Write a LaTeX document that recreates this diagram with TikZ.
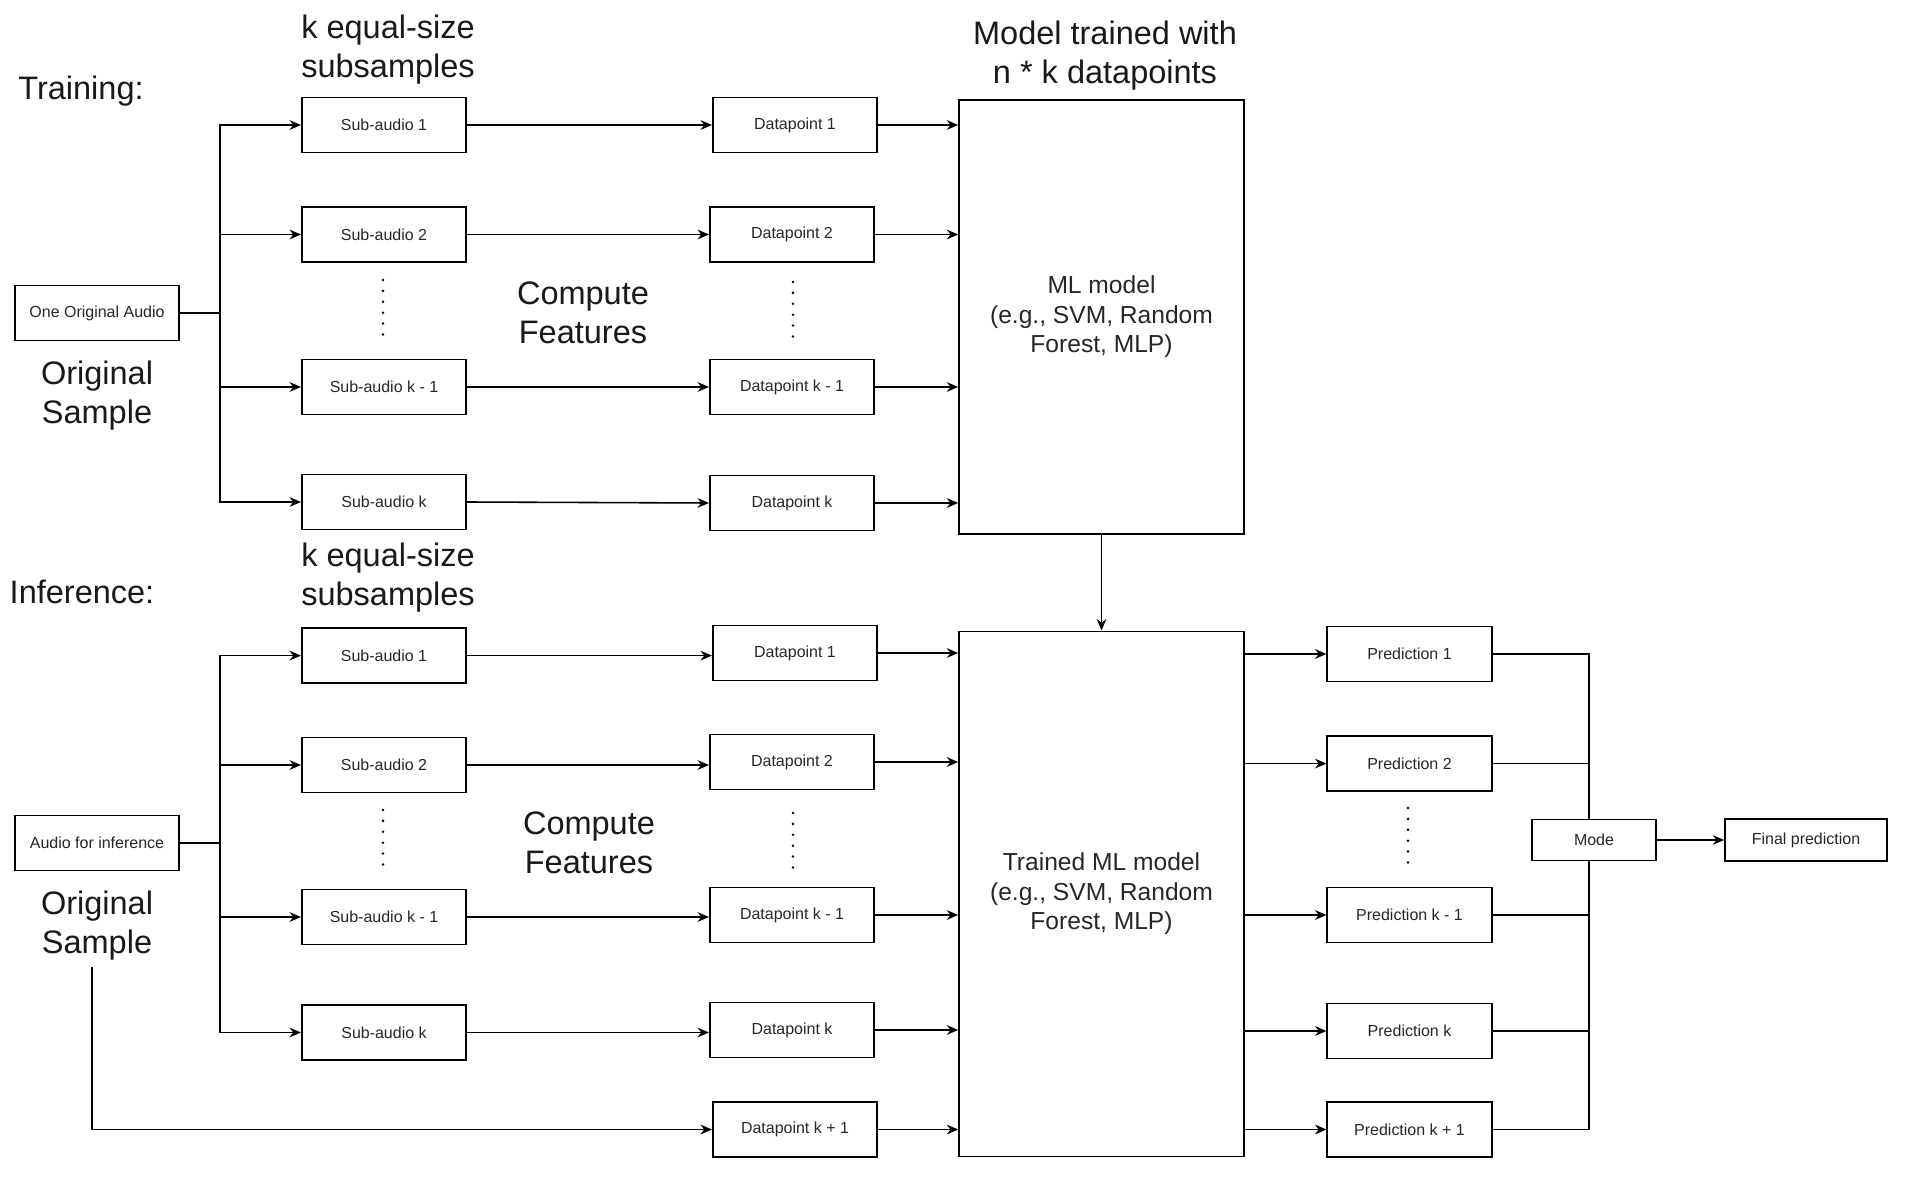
\documentclass[tikz,border=0pt]{standalone}
\usepackage{fontspec}
\setmainfont{Liberation Sans}
\usetikzlibrary{arrows.meta,positioning}

\begin{document}
\begin{tikzpicture}[x=0.02cm,y=-0.02cm,>=Stealth,
  box/.style={rectangle,draw,line width=0.9pt,align=center,minimum width=3.29cm,minimum height=1.1cm,font=\fontsize{9.1}{11}\selectfont,text=black!85},
  model/.style={rectangle,draw,line width=0.9pt,align=center,minimum width=5.7cm,font=\fontsize{14}{16.8}\selectfont,text=black!85},
  heading/.style={align=center,font=\fontsize{18.5}{22.2}\selectfont,text=black!90},
  arrow/.style={-{Stealth[length=6.5pt,width=5.5pt]},line width=0.9pt},
  link/.style={line width=0.9pt},
  vdots/.style={line width=1.6pt,line cap=round,dash pattern=on 0pt off 6.2pt}]

  \useasboundingbox (0,0) rectangle (1925,1182);

  \node[heading] (train) at (81,91) {Training:};
  \node[heading] (ksubT) at (388,50) {k equal-size\\subsamples};
  \node[heading] (mtitle) at (1105,56) {Model trained with\\n * k datapoints};
  \node[box] (orig) at (97,313) {One Original Audio};
  \node[heading,below=0.27cm of orig] (osT) {Original\\Sample};
  \node[heading] (cfT) at (583,313) {Compute\\Features};

  \node[box] (sa1) at (384,125) {Sub-audio 1};
  \node[box] (sa2) at (384,234.5) {Sub-audio 2};
  \node[box] (sak1) at (384,387) {Sub-audio k - 1};
  \node[box] (sak) at (384,502) {Sub-audio k};
  \node[box] (dp1) at (795,125) {Datapoint 1};
  \node[box] (dp2) at (792,234.5) {Datapoint 2};
  \node[box] (dpk1) at (792,387) {Datapoint k - 1};
  \node[box] (dpk) at (792,503) {Datapoint k};
  \node[model,minimum height=8.69cm] (ml) at (1101.5,317) {ML model\\(e.g., SVM, Random\\Forest, MLP)};

  \node[heading] (infer) at (82,592) {Inference:};
  \node[heading] (ksubI) at (388,578) {k equal-size\\subsamples};
  \node[box] (aud) at (97,843) {Audio for inference};
  \node[heading,below=0.27cm of aud] (osI) {Original\\Sample};
  \node[heading] (cfI) at (589,843) {Compute\\Features};

  \node[box] (sb1) at (384,655.6) {Sub-audio 1};
  \node[box] (sb2) at (384,765) {Sub-audio 2};
  \node[box] (sbk1) at (384,917) {Sub-audio k - 1};
  \node[box] (sbk) at (384,1032.5) {Sub-audio k};
  \node[box] (dq1) at (795,653) {Datapoint 1};
  \node[box] (dq2) at (792,762) {Datapoint 2};
  \node[box] (dqk1) at (792,915) {Datapoint k - 1};
  \node[box] (dqk) at (792,1030) {Datapoint k};
  \node[box] (dqk2) at (795,1129.5) {Datapoint k + 1};
  \node[model,minimum height=10.51cm] (tm) at (1101.5,894) {Trained ML model\\(e.g., SVM, Random\\Forest, MLP)};

  \node[box] (pr1) at (1409.5,654) {Prediction 1};
  \node[box] (pr2) at (1409.5,763.6) {Prediction 2};
  \node[box] (prk1) at (1409.5,915) {Prediction k - 1};
  \node[box] (prk) at (1409.5,1031) {Prediction k};
  \node[box] (prk2) at (1409.5,1129.5) {Prediction k + 1};
  \node[box,minimum width=2.48cm,minimum height=0.82cm] (mode) at (1594,840) {Mode};
  \node[box,minimum width=3.24cm,minimum height=0.84cm] (final) at (1806,840) {Final prediction};

  \coordinate (tjT) at (220,313);
  \coordinate (tjI) at (220,843);
  \coordinate (col) at (1589,840);

  \draw[arrow] (orig.east) -- (tjT) |- (sa1.west);
  \draw[arrow] (orig.east) -- (tjT) |- (sa2.west);
  \draw[arrow] (orig.east) -- (tjT) |- (sak1.west);
  \draw[arrow] (orig.east) -- (tjT) |- (sak.west);
  \draw[arrow] (sa1.east) -- (dp1.west);
  \draw[arrow] (sa2.east) -- (dp2.west);
  \draw[arrow] (sak1.east) -- (dpk1.west);
  \draw[arrow] (sak.east) -- (dpk.west);
  \draw[arrow] (dp1.east) -- (dp1.east -| ml.west);
  \draw[arrow] (dp2.east) -- (dp2.east -| ml.west);
  \draw[arrow] (dpk1.east) -- (dpk1.east -| ml.west);
  \draw[arrow] (dpk.east) -- (dpk.east -| ml.west);
  \draw[arrow] (ml) -- (tm);

  \draw[arrow] (aud.east) -- (tjI) |- (sb1.west);
  \draw[arrow] (aud.east) -- (tjI) |- (sb2.west);
  \draw[arrow] (aud.east) -- (tjI) |- (sbk1.west);
  \draw[arrow] (aud.east) -- (tjI) |- (sbk.west);
  \draw[arrow] (sb1.east) -- (sb1.east -| dq1.west);
  \draw[arrow] (sb2.east) -- (sb2.east -| dq2.west);
  \draw[arrow] (sbk1.east) -- (sbk1.east -| dqk1.west);
  \draw[arrow] (sbk.east) -- (sbk.east -| dqk.west);
  \draw[arrow] ([xshift=-0.1cm]osI.south) |- (dqk2.west);
  \draw[arrow] (dq1.east) -- (dq1.east -| tm.west);
  \draw[arrow] (dq2.east) -- (dq2.east -| tm.west);
  \draw[arrow] (dqk1.east) -- (dqk1.east -| tm.west);
  \draw[arrow] (dqk.east) -- (dqk.east -| tm.west);
  \draw[arrow] (dqk2.east) -- (dqk2.east -| tm.west);

  \draw[arrow] (tm.east |- pr1) -- (pr1.west);
  \draw[arrow] (tm.east |- pr2) -- (pr2.west);
  \draw[arrow] (tm.east |- prk1) -- (prk1.west);
  \draw[arrow] (tm.east |- prk) -- (prk.west);
  \draw[arrow] (tm.east |- prk2) -- (prk2.west);
  \draw[link] (pr1.east) -| (col |- mode.north);
  \draw[link] (pr2.east) -| (col |- mode.north);
  \draw[link] (prk1.east) -| (col |- mode.south);
  \draw[link] (prk.east) -| (col |- mode.south);
  \draw[link] (prk2.east) -| (col |- mode.south);
  \draw[arrow] (mode) -- (final);

  \draw[vdots] (383,280) -- (383,336);
  \draw[vdots] (793,282) -- (793,338);
  \draw[vdots] (383,810) -- (383,866);
  \draw[vdots] (793,813) -- (793,869);
  \draw[vdots] (1408,808) -- (1408,866);
\end{tikzpicture}
\end{document}
